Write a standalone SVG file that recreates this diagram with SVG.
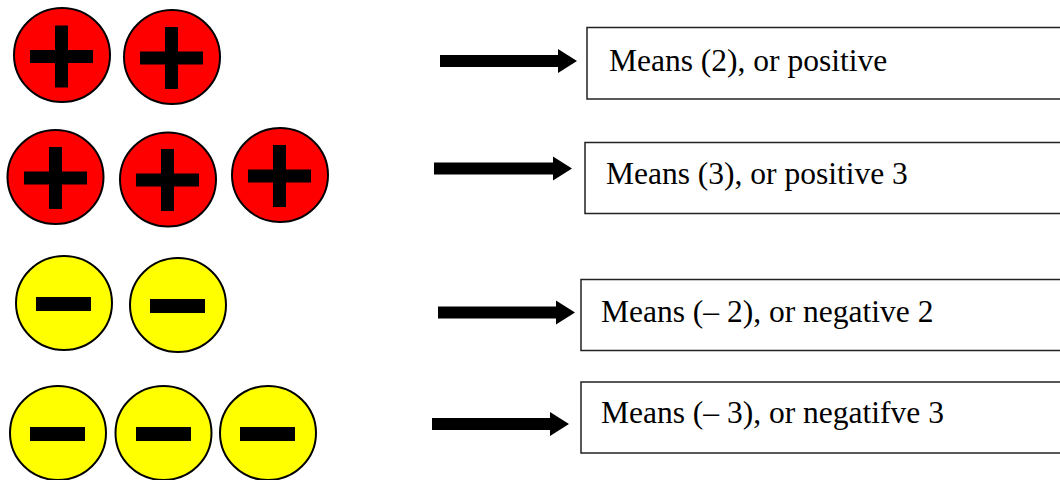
<svg xmlns="http://www.w3.org/2000/svg" width="1060" height="480" viewBox="0 0 1060 480">
<defs>
<style>
.pos{fill:#ff0000;stroke:#000;stroke-width:2}
.neg{fill:#ffff00;stroke:#000;stroke-width:2}
.sym{fill:#000}
.box{fill:#fff;stroke:#222;stroke-width:1.5}
.lbl{font-family:"Liberation Serif","Times New Roman",serif;font-size:31.5px;fill:#000}
.arr{fill:#000}
</style>
<g id="plus"><rect x="-6.5" y="-31" width="13" height="62"/><rect x="-31.5" y="-6.5" width="63" height="13"/></g>
<g id="minus"><rect x="-27.5" y="-7" width="55" height="14"/></g>
</defs>
<rect width="1060" height="480" fill="#fff"/>
<g id="row1">
<ellipse class="pos" cx="62" cy="55" rx="48" ry="47"/><use href="#plus" class="sym" x="61.5" y="56.5"/>
<ellipse class="pos" cx="172" cy="57" rx="48" ry="47"/><use href="#plus" class="sym" x="171.5" y="58"/>
</g>
<g id="row2">
<ellipse class="pos" cx="55.5" cy="177" rx="48" ry="47"/><use href="#plus" class="sym" x="55.5" y="178"/>
<ellipse class="pos" cx="168" cy="179.5" rx="48" ry="47"/><use href="#plus" class="sym" x="167.5" y="180"/>
<ellipse class="pos" cx="280" cy="175" rx="48" ry="47"/><use href="#plus" class="sym" x="279.5" y="176"/>
</g>
<g id="row3">
<ellipse class="neg" cx="64" cy="303" rx="48" ry="47"/><use href="#minus" class="sym" x="63.5" y="304"/>
<ellipse class="neg" cx="178" cy="305" rx="48" ry="47"/><use href="#minus" class="sym" x="177.5" y="306"/>
</g>
<g id="row4">
<ellipse class="neg" cx="58" cy="433" rx="48" ry="47"/><use href="#minus" class="sym" x="57.5" y="434"/>
<ellipse class="neg" cx="163.5" cy="433" rx="48" ry="47"/><use href="#minus" class="sym" x="163.5" y="434"/>
<ellipse class="neg" cx="268" cy="433" rx="48" ry="47"/><use href="#minus" class="sym" x="267.5" y="434"/>
</g>
<g id="connectors">
<path class="arr" d="M440 55H558V49L577 61L558 73V67H440Z"/>
<path class="arr" d="M434 162.5H553V156.5L572 168.5L553 180.5V174.5H434Z"/>
<path class="arr" d="M438 306.5H556V300.5L575 312.5L556 324.5V318.5H438Z"/>
<path class="arr" d="M432 418H550V412L569 424L550 436V430H432Z"/>
</g>
<g id="box1"><rect class="box" x="587" y="27.5" width="480" height="71.5"/><text class="lbl" x="609" y="71">Means (2), or positive</text></g>
<g id="box2"><rect class="box" x="585" y="142.5" width="480" height="71"/><text class="lbl" x="606" y="184">Means (3), or positive 3</text></g>
<g id="box3"><rect class="box" x="581" y="279.5" width="485" height="71"/><text class="lbl" x="601" y="322">Means (– 2), or negative 2</text></g>
<g id="box4"><rect class="box" x="581" y="382" width="485" height="71"/><text class="lbl" x="601" y="423">Means (– 3), or negatifve 3</text></g>
</svg>
